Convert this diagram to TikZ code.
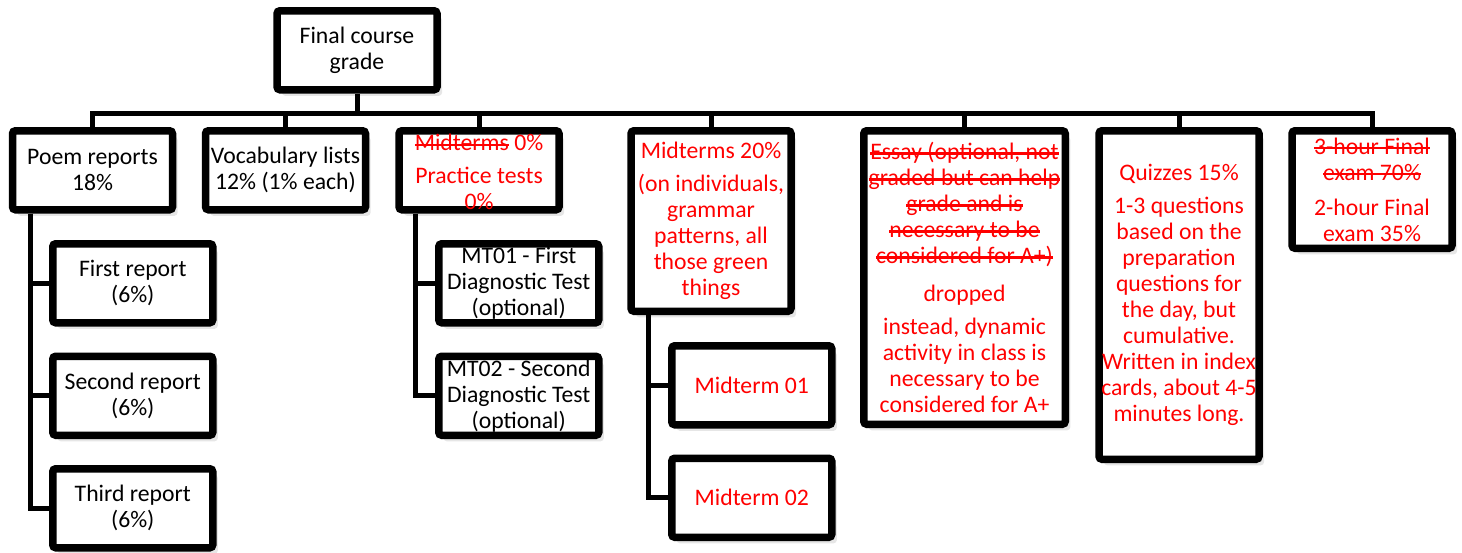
\documentclass[tikz,border=0pt]{standalone}
\usepackage{fontspec}
\setmainfont{Carlito}
\usetikzlibrary{positioning,shadows}
\newsavebox\strikebox
\newcommand{\strike}[1]{\sbox\strikebox{#1}\rlap{\rule[0.2em]{\wd\strikebox}{2.5pt}}\usebox\strikebox}

\begin{document}
\begin{tikzpicture}[x=1pt,y=-1pt,
    box/.style={draw=black, line width=7.5pt, rounded corners=3pt, fill=white,
      minimum width=160pt, minimum height=79pt, inner sep=0pt, align=center,
      font=\fontsize{23.7}{26}\selectfont,
      drop shadow={opacity=0.2, shadow xshift=5pt, shadow yshift=-6pt}},
    redbox/.style={box, text=red},
    redtext/.style={text=red, align=center, inner sep=0pt, font=\fontsize{23.7}{26}\selectfont},
    conn/.style={black, line width=5pt}]
  \useasboundingbox (0,0) rectangle (1462,552);
  % top level
  \node [box, anchor=north] (root) at (357,7) {Final course\\grade};
  \coordinate (bus) at (357,113);
  % categories
  \node [box, anchor=north] (poem) at (92.5,127) {Poem reports\\18\%};
  \node [box, anchor=north] (vocab) at (285.5,127) {Vocabulary lists\\12\% (1\% each)};
  \node [redbox, anchor=north] (mt0) at (479,127) {};
  \node [redtext] (mt0txt) at ([yshift=-2pt]mt0.center) {\strike{Midterms} 0\%\\[7pt]Practice tests\\0\%};
  \node [redbox, anchor=north, minimum height=180.5pt] (mid) at (711,127) {Midterms 20\%\\[7pt](on individuals,\\grammar\\patterns, all\\those green\\things};
  \node [redbox, anchor=north, minimum width=201.5pt, minimum height=293.5pt] (essay) at (964.5,127) {\strike{Essay (optional, not}\\\strike{graded but can help}\\\strike{grade and is}\\\strike{necessary to be}\\\strike{considered for A+)}\\[12pt]dropped\\[7pt]instead, dynamic\\activity in class is\\necessary to be\\considered for A+};
  \node [redbox, anchor=north, minimum height=328.5pt] (quiz) at (1179,127) {Quizzes 15\%\\[7pt]1-3 questions\\based on the\\preparation\\questions for\\the day, but\\cumulative.\\Written in index\\cards, about 4-5\\minutes long.};
  \node [redbox, anchor=north, minimum height=117.5pt] (final) at (1372,127) {\strike{3-hour Final}\\\strike{exam 70\%}\\[9pt]2-hour Final\\exam 35\%};
  % sub items
  \node [box, anchor=north west] (first) at (49,240) {First report\\(6\%)};
  \node [box, below=26pt of first] (second) {Second report\\(6\%)};
  \node [box, below=26pt of second] (third) {Third report\\(6\%)};
  \node [box, anchor=north west] (mt1) at (435,240) {MT01 - First\\Diagnostic Test\\(optional)};
  \node [box, below=26pt of mt1] (mt2) {MT02 - Second\\Diagnostic Test\\(optional)};
  \node [redbox, anchor=north west] (m01) at (668,342) {Midterm 01};
  \node [redbox, below=26pt of m01] (m02) {Midterm 02};
  % connectors
  \draw [conn] (root.south) -- (bus);
  \draw [conn] (poem.north) |- (bus);
  \draw [conn] (vocab.north) |- (bus);
  \draw [conn] (mt0.north) |- (bus);
  \draw [conn] (mid.north) |- (bus);
  \draw [conn] (essay.north) |- (bus);
  \draw [conn] (quiz.north) |- (bus);
  \draw [conn] (final.north) |- (bus);
  \draw [conn] ([xshift=22pt]poem.south west) |- (first.west);
  \draw [conn] ([xshift=22pt]poem.south west) |- (second.west);
  \draw [conn] ([xshift=22pt]poem.south west) |- (third.west);
  \draw [conn] ([xshift=20pt]mt0.south west) |- (mt1.west);
  \draw [conn] ([xshift=20pt]mt0.south west) |- (mt2.west);
  \draw [conn] ([xshift=21pt]mid.south west) |- (m01.west);
  \draw [conn] ([xshift=21pt]mid.south west) |- (m02.west);
\end{tikzpicture}
\end{document}
